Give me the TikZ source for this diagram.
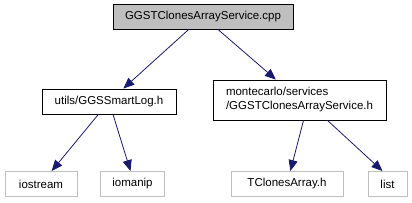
\documentclass[tikz,border=0pt]{standalone}
\usepackage{fontspec}
\setmainfont{Liberation Sans}
\usetikzlibrary{arrows.meta}
\definecolor{edgeblue}{HTML}{191970}
\definecolor{lightgr}{HTML}{BFBFBF}
\definecolor{topfill}{HTML}{BFBFBF}
\begin{document}
\begin{tikzpicture}[x=1pt,y=-1pt,
  box/.style={draw=black, line width=0.9pt, inner sep=0pt, align=left,
    font=\fontsize{11.5}{14}\selectfont, minimum height=25pt},
  topbox/.style={box, fill=topfill},
  extbox/.style={box, draw=lightgr},
  edge/.style={draw=edgeblue, line width=0.8pt, -{Triangle[length=11pt,width=9pt]}}]
\useasboundingbox (0,0) rectangle (412,203);
\node[topbox, minimum width=180pt] (top) at (203,16.5) {GGSTClonesArrayService.cpp};
\node[box, minimum width=134pt] (log) at (109,101.5) {utils/GGSSmartLog.h};
\node[box, minimum width=173pt, minimum height=40pt] (svc) at (299.5,100) {montecarlo/services\\/GGSTClonesArrayService.h};
\node[extbox, minimum width=72pt] (ios) at (41,184) {iostream};
\node[extbox, minimum width=64pt] (iom) at (132.5,184) {iomanip};
\node[extbox, minimum width=112pt] (tca) at (287,184) {TClonesArray.h};
\node[extbox, minimum width=39pt] (lst) at (387.5,184) {list};
\draw[edge] (top) -- (log);
\draw[edge] (top) -- (svc);
\draw[edge] (log) -- (ios);
\draw[edge] ([xshift=4pt]log.south) -- ([xshift=-2pt]iom.north);
\draw[edge] ([xshift=4pt]svc.south) -- (tca);
\draw[edge] ([xshift=28pt]svc.south) -- ([xshift=-5pt]lst.north);
\end{tikzpicture}
\end{document}
